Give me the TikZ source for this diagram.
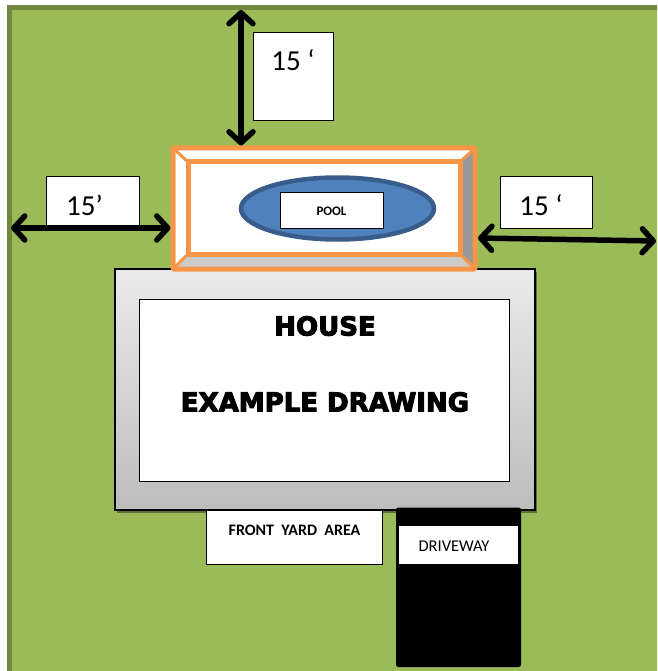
\documentclass[tikz,border=0pt]{standalone}
\usepackage{fontspec}
\setmainfont{Carlito}
\newfontfamily\heavyfont{DejaVu Sans Bold}[FakeBold=4]
\usetikzlibrary{arrows.meta,shadows,calc,shapes.geometric}
\definecolor{lawn}{HTML}{9BBB59}
\definecolor{lawnedge}{HTML}{71893F}
\definecolor{poolorange}{HTML}{F79646}
\definecolor{poolblue}{HTML}{4F81BD}
\definecolor{pooledge}{HTML}{385D8A}
\tikzset{
  labelbox/.style={draw=black,fill=white,line width=1pt,inner sep=0pt,outer sep=0pt,anchor=north west},
  plain/.style={inner sep=0pt,outer sep=0pt,text=black},
  dimarrow/.style={line width=5.5pt,line cap=round,{Straight Barb[length=11pt,width=24pt,line width=5.5pt,round]}-{Straight Barb[length=11pt,width=24pt,line width=5.5pt,round]}},
  bevelline/.style={draw=poolorange,line width=5pt,line join=round,line cap=round},
}
\begin{document}
\begin{tikzpicture}[x=1pt,y=-1pt]
\useasboundingbox (0,0) rectangle (657,671);
\begin{scope}
\clip (0,0) rectangle (657,671);
\draw[lawnedge,fill=lawn,line width=5pt] (9.5,7.5) rectangle (690,700);
\end{scope}
% house
\node[draw=black,line width=2pt,top color=black!8,bottom color=black!26,inner sep=0pt,outer sep=0pt,anchor=north west,minimum width=420pt,minimum height=241pt,drop shadow={shadow xshift=2pt,shadow yshift=-2.5pt,fill=black,opacity=.4}] (house) at (114.5,269) {};
\node[labelbox,minimum width=370pt,minimum height=182pt] (houseinner) at (139.5,299) {};
\node[plain,font=\heavyfont\fontsize{26}{26}\selectfont] (houselabel) at (325,326) {HOUSE};
\node[plain,font=\heavyfont\fontsize{26}{26}\selectfont] (example) at (325,402) {EXAMPLE DRAWING};
% driveway
\node[draw=black,fill=black,rounded corners=2pt,line width=1pt,inner sep=0pt,outer sep=0pt,anchor=north west,minimum width=124pt,minimum height=158.5pt] (drive) at (396.5,508) {};
% pool surround
\fill[white] (173,148) rectangle (475,269);
\fill[black!40] (475,148) -- (460,162) -- (460,254) -- (475,269) -- cycle;
\fill[black!20] (173,269) -- (188,254) -- (460,254) -- (475,269) -- cycle;
\node[bevelline,fill=none,inner sep=0pt,outer sep=0pt,anchor=north west,minimum width=302pt,minimum height=121pt,rounded corners=1pt] (poolframe) at (173,148) {};
\node[bevelline,fill=white,inner sep=0pt,outer sep=0pt,anchor=north west,minimum width=272pt,minimum height=92pt] (poolinner) at (188,162) {};
\draw[bevelline,line width=3pt] (poolframe.north west) -- (poolinner.north west);
\draw[bevelline,line width=3pt] (poolframe.north east) -- (poolinner.north east);
\draw[bevelline,line width=3pt] (poolframe.south west) -- (poolinner.south west);
\draw[bevelline,line width=3pt] (poolframe.south east) -- (poolinner.south east);
\node[ellipse,draw=pooledge,fill=poolblue,line width=4.5pt,inner sep=0pt,outer sep=0pt,minimum width=193pt,minimum height=62pt] (poolwater) at (337.5,208.5) {};
\node[labelbox,minimum width=103pt,minimum height=36pt] (poolbox) at (280,192.5) {};
\node[plain,font=\bfseries\fontsize{13}{13}\selectfont] (poollabel) at (331.5,211) {POOL};
% dimension boxes
\node[labelbox,minimum width=80pt,minimum height=88pt] (topbox) at (253,33) {};
\node[plain,font=\fontsize{29}{29}\selectfont] (toplabel) at (293,60) {15 ‘};
\node[labelbox,minimum width=93pt,minimum height=50pt] (leftbox) at (46,176.5) {};
\node[plain,font=\fontsize{29}{29}\selectfont] (leftlabel) at (84.5,205) {15’};
\node[labelbox,minimum width=92pt,minimum height=52pt] (rightbox) at (500,176.5) {};
\node[plain,font=\fontsize{29}{29}\selectfont] (rightlabel) at (541,205) {15 ‘};
% dimension arrows
\coordinate (topend) at (241,10);
\coordinate (leftend) at (11,228);
\coordinate (rightend) at (656,241);
\coordinate (rightstart) at (478,238);
\draw[dimarrow,shorten >=2.5pt] (topend) -- (topend |- poolframe.north);
\draw[dimarrow,shorten >=2.5pt] (leftend) -- (leftend -| poolframe.west);
\draw[dimarrow] (rightstart) -- (rightend);
% front
\node[labelbox,minimum width=176pt,minimum height=54pt] (frontbox) at (206.5,510) {};
\node[plain,font=\bfseries\fontsize{16}{16}\selectfont] (frontlabel) at (294.5,530) {FRONT\ \ YARD\ \ AREA};
\node[fill=white,inner sep=0pt,outer sep=0pt,anchor=north west,minimum width=119pt,minimum height=38pt] (drivebox) at (399,526) {};
\node[plain,font=\fontsize{16.5}{16.5}\selectfont] (drivelabel) at (454,546) {DRIVEWAY};
\end{tikzpicture}
\end{document}
